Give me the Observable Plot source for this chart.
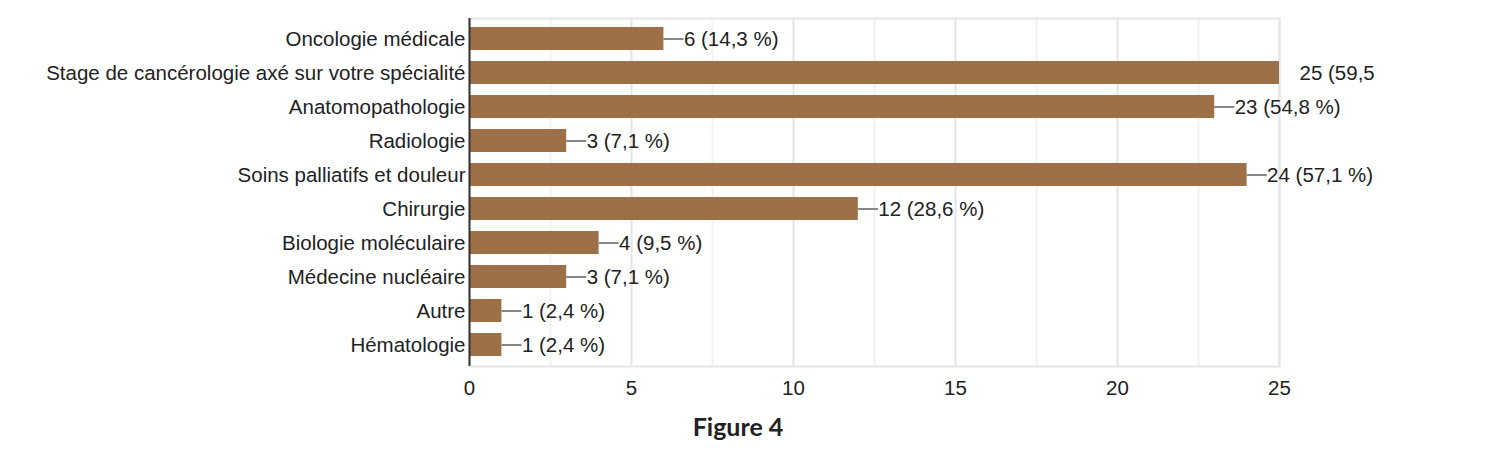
<!DOCTYPE html>
<html>
<head>
<meta charset="utf-8">
<script src="https://cdn.jsdelivr.net/npm/d3@7"></script>
<script src="https://cdn.jsdelivr.net/npm/@observablehq/plot@0.6"></script>
<style>
  html, body { margin: 0; padding: 0; background: #fff; }
  #wrap { position: relative; width: 1508px; height: 457px; }
  #caption { position: absolute; left: 738px; top: 414px; transform: translateX(-50%);
    font-family: Lato, "Open Sans", sans-serif; font-weight: 700; font-size: 25px; line-height: 25px; color: #222; white-space: nowrap; }
</style>
</head>
<body>
<div id="wrap">
  <div id="chart"></div>
  <div id="caption">Figure 4</div>
</div>
<script>
const categories = [
  "Oncologie médicale",
  "Stage de cancérologie axé sur votre spécialité",
  "Anatomopathologie",
  "Radiologie",
  "Soins palliatifs et douleur",
  "Chirurgie",
  "Biologie moléculaire",
  "Médecine nucléaire",
  "Autre",
  "Hématologie"
];
const counts = [6, 25, 23, 3, 24, 12, 4, 3, 1, 1];
const percents = ["14,3", "59,5", "54,8", "7,1", "57,1", "28,6", "9,5", "7,1", "2,4", "2,4"];
const majorTicks = [0, 5, 10, 15, 20, 25];
const minorTicks = [2.5, 7.5, 12.5, 17.5, 22.5];

const data = categories.map((c, i) => ({c, v: counts[i], label: `${counts[i]} (${percents[i]} %)`}));

const chart = Plot.plot({
  width: 1374,
  height: 405,
  marginLeft: 469,
  marginRight: 95,
  marginTop: 18,
  marginBottom: 39,
  x: {domain: [0, 25], label: null},
  y: {domain: categories, paddingInner: 0.32, paddingOuter: 0.16, label: null},
  style: {fontFamily: "'Liberation Sans', Arial, sans-serif", fontSize: "20.5px", color: "#222", overflow: "hidden", background: "#fff"},
  marks: [
    Plot.ruleX(minorTicks, {stroke: "#f2f2f2", strokeWidth: 2}),
    Plot.ruleX(majorTicks.slice(1), {stroke: "#e4e4e4", strokeWidth: 2}),
    Plot.frame({stroke: "#e6e6e6", strokeWidth: 2}),
    Plot.ruleY(data, {y: "c", x1: "v", x2: d => d.v + 0.62, stroke: "#888", strokeWidth: 2, clip: true}),
    Plot.barX(data, {x: "v", y: "c", fill: "#9e7047"}),
    Plot.text(data, {x: "v", y: "c", text: "label", dx: 20, textAnchor: "start", fill: "#222", fontSize: 20.5}),
    Plot.ruleX([0], {stroke: "#333", strokeWidth: 2}),
    Plot.axisX({ticks: majorTicks, tickSize: 0, tickPadding: 14, fontSize: 20.5, fill: "#222", label: null}),
    Plot.axisY({tickSize: 0, tickPadding: 4, fontSize: 20.5, fill: "#222", label: null})
  ]
});
document.getElementById("chart").appendChild(chart);
</script>
</body>
</html>
